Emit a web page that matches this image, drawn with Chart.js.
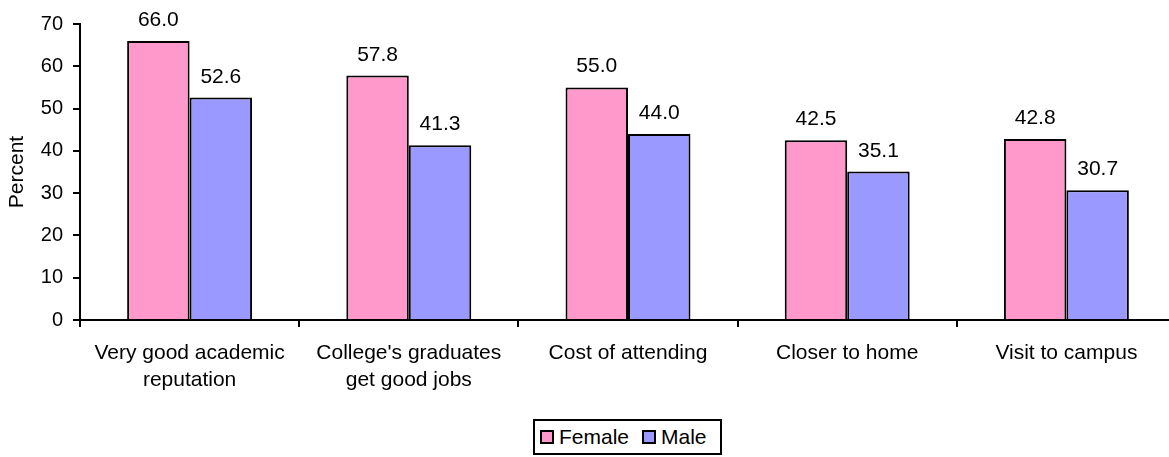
<!DOCTYPE html>
<html>
<head>
<meta charset="utf-8">
<script src="https://cdn.jsdelivr.net/npm/chart.js@4"></script>
<style>
  html, body { margin: 0; padding: 0; background: #fff; overflow: hidden; }
  #wrap { position: relative; width: 1169px; height: 457px; overflow: hidden; }
  #c { position: absolute; left: 0; top: 0; }
  #legend {
    position: absolute; left: 533px; top: 419px; width: 189px; height: 36px;
    box-sizing: border-box; border: 2px solid #000; background: #fff;
    font-family: "Liberation Sans", Arial, sans-serif; font-size: 21px; color: #000;
    display: flex; align-items: center;
  }
  .item { display: flex; align-items: center; }
  .sw { width: 14px; height: 14px; box-sizing: border-box; border: 2px solid #000; margin-right: 5px; }
</style>
</head>
<body>
<div id="wrap">
  <canvas id="c" width="1180" height="457"></canvas>
  <div id="legend"></div>
</div>
<script>
const categories = [
  ["Very good academic", "reputation"],
  ["College's graduates", "get good jobs"],
  ["Cost of attending"],
  ["Closer to home"],
  ["Visit to campus"]
];
const seriesNames = ["Female", "Male"];
const femaleValues = [66.0, 57.8, 55.0, 42.5, 42.8];
const maleValues = [52.6, 41.3, 44.0, 35.1, 30.7];
const yTicks = [0, 10, 20, 30, 40, 50, 60, 70];
const colors = ["#FF99CC", "#9999FF"];

const FONT = '"Liberation Sans", Arial, sans-serif';

const dataLabels = {
  id: 'dataLabels',
  afterDatasetsDraw(chart) {
    const ctx = chart.ctx;
    ctx.save();
    ctx.font = '21px ' + FONT;
    ctx.fillStyle = '#000';
    ctx.textAlign = 'center';
    ctx.textBaseline = 'alphabetic';
    chart.data.datasets.forEach((ds, di) => {
      const meta = chart.getDatasetMeta(di);
      meta.data.forEach((bar, i) => {
        ctx.fillText(ds.data[i].toFixed(1), bar.x, bar.y - 15);
      });
    });
    ctx.restore();
  }
};

const chart = new Chart(document.getElementById('c'), {
  type: 'bar',
  data: {
    labels: categories,
    datasets: [
      { label: seriesNames[0], data: femaleValues, backgroundColor: colors[0], borderColor: '#000', borderWidth: 2 },
      { label: seriesNames[1], data: maleValues, backgroundColor: colors[1], borderColor: '#000', borderWidth: 2 }
    ]
  },
  options: {
    responsive: false,
    devicePixelRatio: 1,
    animation: false,
    layout: { padding: { left: 0, right: 4, top: 24, bottom: 0 } },
    datasets: { bar: { categoryPercentage: 0.57, barPercentage: 1.0 } },
    plugins: { legend: { display: false }, tooltip: { enabled: false } },
    scales: {
      x: {
        offset: true,
        grid: { display: true, offset: true, drawOnChartArea: false, drawTicks: true, tickLength: 7, color: '#000', lineWidth: 2 },
        border: { display: true, color: '#000', width: 2 },
        ticks: { color: '#000', font: { family: FONT, size: 21, lineHeight: 1.27 }, padding: 13, maxRotation: 0, autoSkip: false },
        afterFit(s) { s.height = 137; }
      },
      y: {
        min: 0, max: 70,
        afterBuildTicks(s) { s.ticks = yTicks.map(v => ({ value: v })); },
        grid: { display: true, drawOnChartArea: false, drawTicks: true, tickLength: 7, color: '#000', lineWidth: 2 },
        border: { display: true, color: '#000', width: 2 },
        ticks: { color: '#000', font: { family: FONT, size: 20 }, padding: 10 },
        title: { display: true, text: 'Percent', color: '#000', font: { family: FONT, size: 21 }, padding: { top: 5, bottom: 0 } },
        afterFit(s) { s.width = 80; }
      }
    }
  },
  plugins: [dataLabels]
});

const legend = document.getElementById('legend');
seriesNames.forEach((name, i) => {
  const item = document.createElement('div');
  item.className = 'item';
  item.style.marginLeft = i === 0 ? '5px' : '13px';
  const sw = document.createElement('div');
  sw.className = 'sw';
  sw.style.background = colors[i];
  const t = document.createElement('span');
  t.textContent = name;
  item.appendChild(sw);
  item.appendChild(t);
  legend.appendChild(item);
});
</script>
</body>
</html>
